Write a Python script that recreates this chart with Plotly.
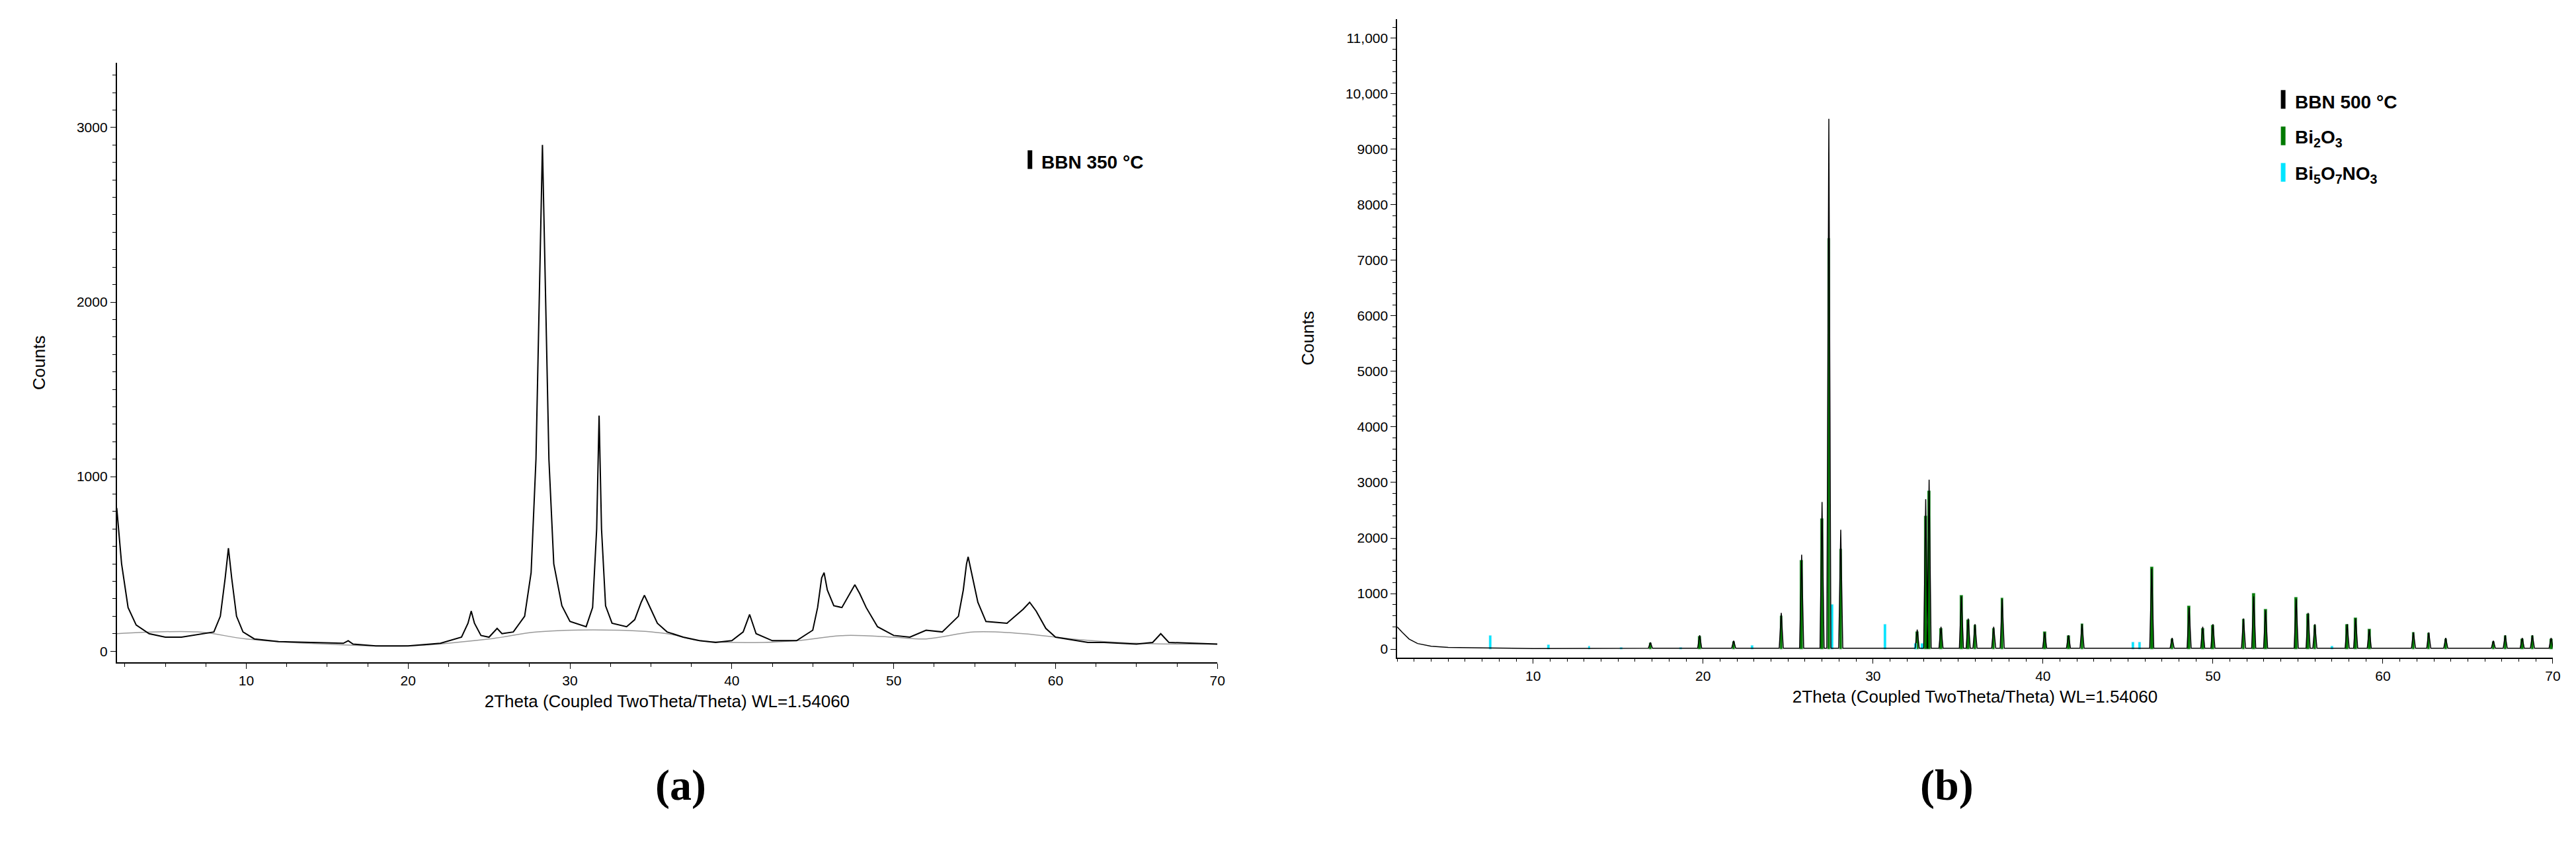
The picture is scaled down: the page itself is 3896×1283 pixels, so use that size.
import plotly.graph_objects as go

# panel (a): BBN 350 C pattern
a_x = [2.0, 2.3, 2.7, 3.2, 4, 5, 6, 7, 8, 8.4, 8.7, 8.9, 9.1, 9.4, 9.8, 10.5, 12, 14, 16, 16.3, 16.6, 18, 20, 22,
       23.3, 23.7, 23.9, 24.1, 24.5, 25, 25.5, 25.8, 26.5, 27.2, 27.6, 27.9, 28.1, 28.3, 28.5, 28.7, 29.0, 29.5,
       30, 31, 31.4, 31.65, 31.8, 31.95, 32.2, 32.6, 33.5, 34, 34.4, 34.6, 34.9, 35.4, 36, 37, 38, 39, 40, 40.7,
       41.1, 41.5, 42.5, 44, 45, 45.3, 45.55, 45.7, 45.9, 46.3, 46.8, 47.3, 47.6, 47.9, 48.3, 49, 50, 51, 52,
       53, 54, 54.3, 54.5, 54.6, 54.8, 55.2, 55.7, 57, 58, 58.4, 58.8, 59.4, 60, 62, 63, 65, 66, 66.5, 67, 70]
a_y = [820, 500, 250, 150, 100, 80, 80, 95, 110, 200, 420, 590, 420, 200, 110, 70, 55, 50, 45, 60, 40, 30, 30, 45,
       80, 160, 230, 160, 90, 80, 130, 100, 110, 200, 450, 1100, 2000, 2900, 2000, 1100, 500, 260,
       170, 140, 250, 700, 1350, 700, 260, 160, 140, 180, 280, 320, 260, 160, 110, 80, 60, 50, 60, 110,
       210, 100, 60, 60, 120, 250, 420, 450, 350, 260, 250, 330, 380, 330, 250, 140, 90, 80, 120,
       110, 200, 350, 500, 540, 450, 280, 170, 160, 240, 280, 230, 130, 80, 50, 50, 40, 50, 100, 50, 40]
bg_x = [2, 7, 10, 15, 20, 25, 28, 33, 36, 38, 42, 44, 47, 50, 52, 55, 58, 61, 65, 70]
bg_y = [100, 110, 70, 40, 30, 70, 110, 120, 100, 60, 50, 60, 90, 80, 70, 110, 100, 70, 45, 40]

# panel (b): BBN 500 C peaks
b_pos = [16.9, 19.8, 21.8, 24.6, 25.8, 27.0, 27.4, 28.1, 32.6, 33.1, 33.3, 34.0, 35.2, 35.6, 36.0, 37.1,
         37.6, 40.1, 41.5, 42.3, 46.4, 47.6, 48.6, 49.4, 50.0, 51.8, 52.4, 53.1, 54.9, 55.6, 56.0, 57.9,
         58.4, 59.2, 61.8, 62.7, 63.7, 66.5, 67.2, 68.2, 68.8, 69.9]
b_h = [120, 250, 150, 650, 1700, 2650, 9550, 2150, 350, 2700, 3050, 400, 950, 550, 450, 400,
       900, 300, 250, 450, 1450, 200, 750, 400, 450, 550, 950, 700, 900, 650, 450, 450,
       550, 350, 300, 300, 200, 150, 250, 200, 250, 200]
bi2o3_h = [110, 230, 140, 600, 1600, 2350, 7400, 1800, 320, 2400, 2850, 380, 970, 530, 430, 380,
           920, 310, 240, 460, 1480, 180, 780, 380, 440, 540, 1000, 720, 930, 640, 430, 450,
           560, 360, 300, 290, 190, 140, 240, 190, 240, 190]
b5_pos = [7.5, 10.9, 13.3, 15.2, 18.7, 22.9, 27.6, 30.7, 32.5, 32.9, 45.3, 45.7, 57.0]
b5_h = [250, 80, 50, 30, 30, 60, 800, 450, 100, 100, 120, 120, 50]

head_x = [2.0, 2.3, 2.7, 3.2, 4, 5, 7, 10]
head_y = [400, 300, 180, 100, 50, 30, 20, 10]

bx, by = list(head_x), list(head_y)
for p, h in zip(b_pos, b_h):
    bx += [p - 0.12, p, p + 0.12]
    by += [15, h, 15]
bx.append(70)
by.append(15)

fig = go.Figure()
fig.add_trace(go.Scatter(x=bg_x, y=bg_y, mode="lines", line=dict(color="#999999", width=1.5, shape="spline"),
                         showlegend=False))
fig.add_trace(go.Scatter(x=a_x, y=a_y, mode="lines", line=dict(color="black", width=2), showlegend=False))
fig.add_trace(go.Bar(x=b_pos, y=bi2o3_h, width=0.18, marker_color="#007a00", xaxis="x2", yaxis="y2",
                     showlegend=False))
fig.add_trace(go.Scatter(x=bx, y=by, mode="lines", line=dict(color="black", width=1.5), xaxis="x2", yaxis="y2",
                         showlegend=False))
fig.add_trace(go.Bar(x=b5_pos, y=b5_h, width=0.15, marker_color="#00e5ff", xaxis="x2", yaxis="y2",
                     showlegend=False))

font = "Liberation Sans"
tickf = dict(family=font, size=21, color="black")
titf = dict(family=font, size=26, color="black")
common = dict(showline=True, linecolor="black", linewidth=1.5, ticks="outside", ticklen=8,
              tickcolor="black", showgrid=False, zeroline=False, tickfont=tickf)

fig.update_layout(
    width=3896, height=1283, margin=dict(l=0, r=0, t=0, b=0),
    paper_bgcolor="white", plot_bgcolor="white", bargap=0, barmode="overlay",
    xaxis=dict(domain=[0.0434, 0.472], range=[2, 70], tickvals=[10, 20, 30, 40, 50, 60, 70],
               minor=dict(dtick=2.5, ticks="outside", ticklen=5, tickcolor="black"),
               title=dict(text="2Theta (Coupled TwoTheta/Theta) WL=1.54060", font=titf, standoff=12),
               anchor="y", **common),
    yaxis=dict(domain=[0.225, 0.932], range=[-65, 3370], tickvals=[0, 1000, 2000, 3000],
               minor=dict(dtick=100, ticks="outside", ticklen=5, tickcolor="black"),
               title=dict(text="Counts", font=titf, standoff=40), anchor="x", **common),
    xaxis2=dict(domain=[0.542, 0.992], range=[2, 70], tickvals=[10, 20, 30, 40, 50, 60, 70],
                minor=dict(dtick=1, ticks="outside", ticklen=5, tickcolor="black"),
                title=dict(text="2Theta (Coupled TwoTheta/Theta) WL=1.54060", font=titf, standoff=12),
                anchor="y2", **common),
    yaxis2=dict(domain=[0.231, 0.984], range=[-150, 11350],
                tickvals=[0, 1000, 2000, 3000, 4000, 5000, 6000, 7000, 8000, 9000, 10000, 11000],
                ticktext=["0", "1000", "2000", "3000", "4000", "5000", "6000", "7000", "8000", "9000",
                          "10,000", "11,000"],
                minor=dict(dtick=200, ticks="outside", ticklen=5, tickcolor="black"),
                title=dict(text="Counts", font=titf, standoff=40), anchor="x2", **common),
)

# legends drawn as short vertical bars with labels
leg_a = [("BBN 350 °C", "black")]
leg_b = [("BBN 500 °C", "black"), ("Bi<sub>2</sub>O<sub>3</sub>", "#007a00"),
         ("Bi<sub>5</sub>O<sub>7</sub>NO<sub>3</sub>", "#00e5ff")]


def draw_legend(items, x, y0, step):
    for i, (txt, col) in enumerate(items):
        y = y0 - i * step
        fig.add_shape(type="line", xref="paper", yref="paper", x0=x, x1=x, y0=y - 0.011, y1=y + 0.011,
                      line=dict(color=col, width=7))
        fig.add_annotation(xref="paper", yref="paper", x=x + 0.004, y=y, yanchor="middle", yshift=-4,
                           text="<b>%s</b>" % txt, showarrow=False,
                           xanchor="left", font=dict(family=font, size=28, color="black"))


draw_legend(leg_a, 0.399, 0.818, 0.04)
draw_legend(leg_b, 0.887, 0.889, 0.043)

for x, lab in [(0.2525, "(a)"), (0.767, "(b)")]:
    fig.add_annotation(xref="paper", yref="paper", x=x, y=0.05, text="<b>%s</b>" % lab, showarrow=False,
                       font=dict(family="Liberation Serif", size=66, color="black"))

fig.write_html("out.html")
